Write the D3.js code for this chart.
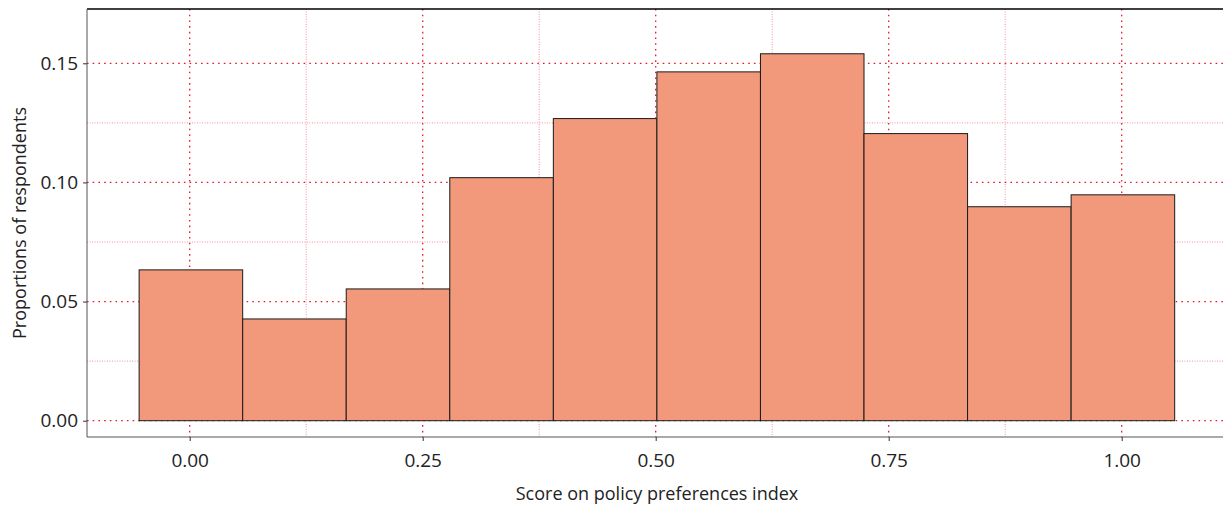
<!DOCTYPE html>
<html><head><meta charset="utf-8">
<script src="https://cdn.jsdelivr.net/npm/d3@7"></script>
<style>body{margin:0;background:#fff}svg{display:block}text{font-family:"Open Sans","Noto Sans",sans-serif;fill:#222}</style>
</head><body><svg id="c" width="1223" height="507"></svg>
<script>
const binCenters = [0, 1/9, 2/9, 3/9, 4/9, 5/9, 6/9, 7/9, 8/9, 1];
const proportions = [0.0633, 0.0427, 0.0553, 0.1020, 0.1268, 0.1464, 0.1540, 0.1205, 0.0898, 0.0948];
const xTicks = [0, 0.25, 0.5, 0.75, 1.0];
const yTicks = [0, 0.05, 0.10, 0.15];
const xMinor = [0.125, 0.375, 0.625, 0.875];
const yMinor = [0.025, 0.075, 0.125];
const xTitle = "Score on policy preferences index";
const yTitle = "Proportions of respondents";

const svg = d3.select("#c");
const L = 87, R = 1223, T = 9, B = 437;
const x = d3.scaleLinear().domain([0, 1]).range([189.7, 1121.7]);
const y = d3.scaleLinear().domain([0, 0.15]).range([420.7, 63.3]);
const bw = 1/9;

const g = svg.append("g");
// minor grid
g.selectAll(".mx").data(xMinor).join("line")
  .attr("x1", d => x(d)).attr("x2", d => x(d)).attr("y1", T).attr("y2", B)
  .attr("stroke", "#f07a8a").attr("stroke-width", 1).attr("stroke-dasharray", "1,1.5").attr("opacity", 0.8);
g.selectAll(".my").data(yMinor).join("line")
  .attr("x1", L).attr("x2", R).attr("y1", d => y(d)).attr("y2", d => y(d))
  .attr("stroke", "#f07a8a").attr("stroke-width", 1).attr("stroke-dasharray", "1,1.5").attr("opacity", 0.8);
// major grid
g.selectAll(".Mx").data(xTicks).join("line")
  .attr("x1", d => x(d)).attr("x2", d => x(d)).attr("y1", T).attr("y2", B)
  .attr("stroke", "#e8172f").attr("stroke-width", 1.3).attr("stroke-dasharray", "1.6,4.1");
g.selectAll(".My").data(yTicks).join("line")
  .attr("x1", L).attr("x2", R).attr("y1", d => y(d)).attr("y2", d => y(d))
  .attr("stroke", "#e8172f").attr("stroke-width", 1.3).attr("stroke-dasharray", "1.6,4.1");

// bars
g.selectAll(".bar").data(binCenters).join("rect")
  .attr("x", d => x(d - bw/2) + 1.2).attr("width", d => x(d + bw/2) - x(d - bw/2))
  .attr("y", (d, i) => y(proportions[i])).attr("height", (d, i) => y(0) - y(proportions[i]))
  .attr("fill", "#f2997b").attr("stroke", "#1a1a1a").attr("stroke-width", 1);

// frame
svg.append("line").attr("x1", L).attr("x2", R).attr("y1", T).attr("y2", T).attr("stroke", "#000").attr("stroke-width", 1.5);
svg.append("line").attr("x1", L).attr("x2", L).attr("y1", T).attr("y2", B).attr("stroke", "#555").attr("stroke-width", 1);
svg.append("line").attr("x1", L).attr("x2", R).attr("y1", B).attr("y2", B).attr("stroke", "#555").attr("stroke-width", 1);

// axes
const xa = svg.append("g").attr("transform", `translate(0,${B})`)
  .call(d3.axisBottom(x).tickValues(xTicks).tickFormat(d3.format(".2f")).tickSize(4).tickPadding(13));
xa.select(".domain").remove();
xa.selectAll("line").attr("stroke", "#333");
xa.selectAll("text").attr("font-size", 19).attr("fill", "#222");
const ya = svg.append("g").attr("transform", `translate(${L},0)`)
  .call(d3.axisLeft(y).tickValues(yTicks).tickFormat(d3.format(".2f")).tickSize(4).tickPadding(5));
ya.select(".domain").remove();
ya.selectAll("line").attr("stroke", "#333");
ya.selectAll("text").attr("font-size", 19).attr("fill", "#222");
xa.attr("font-family", null); ya.attr("font-family", null);

svg.append("text").attr("x", (L + R) / 2 + 2).attr("y", 500).attr("text-anchor", "middle")
  .attr("font-size", 18).text(xTitle);
svg.append("text").attr("transform", `translate(26,${(T + B) / 2}) rotate(-90)`).attr("text-anchor", "middle")
  .attr("font-size", 18).text(yTitle);
</script></body></html>
